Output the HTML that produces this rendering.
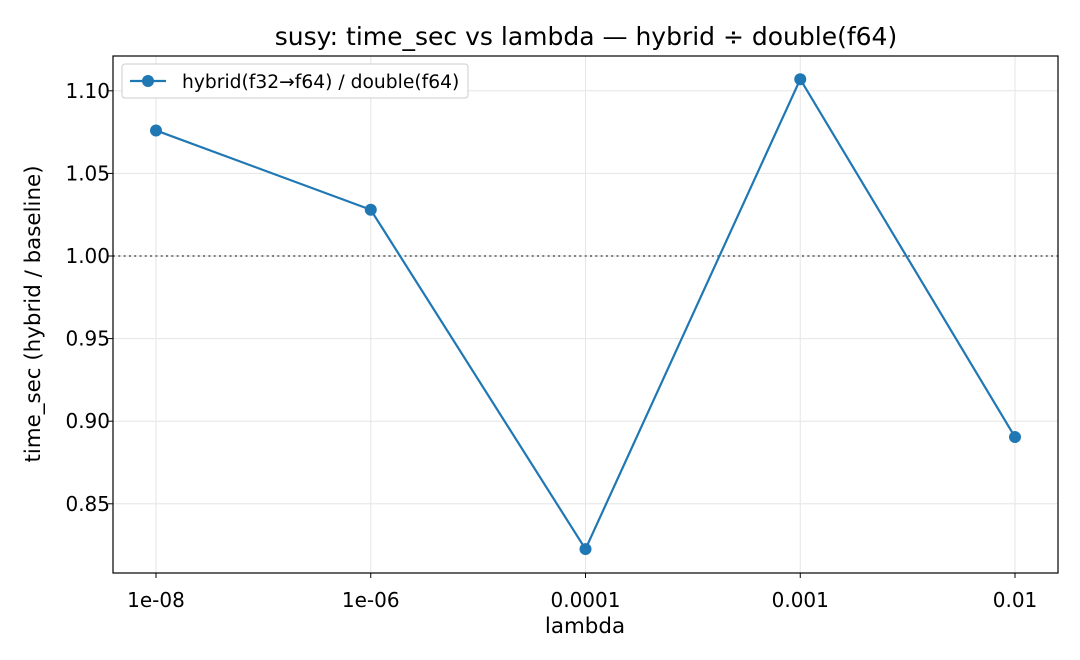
<!DOCTYPE html>
<html><head><meta charset="utf-8">
<style>
html,body{margin:0;padding:0;background:#fff;}
svg{display:block;font-family:"DejaVu Sans","Liberation Sans",sans-serif;}
</style></head>
<body>
<svg id="chart" width="1080" height="660" xmlns="http://www.w3.org/2000/svg">
<text x="586" y="45" text-anchor="middle" font-size="25" fill="#000">susy: time_sec vs lambda — hybrid ÷ double(f64)</text>
<g id="grid"></g>
<line id="refline" stroke="#808080" stroke-width="2" stroke-dasharray="2,3.3"/>
<g id="series"></g>
<rect x="113" y="56" width="945" height="517" fill="none" stroke="#000" stroke-width="1.2"/>
<g id="axes"></g>
<text x="585" y="633" text-anchor="middle" font-size="21.4">lambda</text>
<text transform="translate(40,314) rotate(-90)" text-anchor="middle" font-size="21.4">time_sec (hybrid / baseline)</text>
<g>
<rect x="122" y="64" width="346" height="34" rx="3" fill="#fff" stroke="#ccc"/>
<line x1="130" y1="81" x2="166" y2="81" stroke="#1f77b4" stroke-width="2.2"/>
<circle cx="148" cy="81" r="6" fill="#1f77b4"/>
<text x="182" y="88" font-size="18.7">hybrid(f32→f64) / double(f64)</text>
</g>
</svg>
<script>
const categories = ["1e-08","1e-06","0.0001","0.001","0.01"];
const ratioValues = [1.076, 1.028, 0.8226, 1.107, 0.8904];
const yTicks = [0.85, 0.90, 0.95, 1.00, 1.05, 1.10];
const yTickLabels = ["0.85","0.90","0.95","1.00","1.05","1.10"];
const referenceValue = 1.0;

const NS="http://www.w3.org/2000/svg";
const L=113,R=1058,T=56,B=573;
const x0=156, dx=214.75;
function xs(i){return x0+i*dx;}
function ys(v){return 256-(v-1.0)*1652;}
function mk(tag,attrs,parent){const e=document.createElementNS(NS,tag);for(const k in attrs)e.setAttribute(k,attrs[k]);parent.appendChild(e);return e;}
const grid=document.getElementById('grid'),axes=document.getElementById('axes'),series=document.getElementById('series');
categories.forEach((c,i)=>{
  const g=mk('line',{x1:xs(i),x2:xs(i),y1:T,y2:B,stroke:'#e6e6e6','stroke-width':1},grid);
  
  
  const t=mk('line',{x1:xs(i),x2:xs(i),y1:B,y2:B+5,stroke:'#000'},axes);
  
  
  const l=mk('text',{x:xs(i),y:B+34,'text-anchor':'middle','font-size':20},axes);
  l.textContent=c;
  
  
});
yTicks.forEach((v,i)=>{
  const g=mk('line',{x1:L,x2:R,y1:ys(v),y2:ys(v),stroke:'#e6e6e6','stroke-width':1},grid);
  
  
  const t=mk('line',{x1:L-5,x2:L,y1:ys(v),y2:ys(v),stroke:'#000'},axes);
  
  
  const l=mk('text',{x:L-3,y:ys(v)+7,'text-anchor':'end','font-size':20},axes);
  l.textContent=yTickLabels[i];
  
  
});
const rl=document.getElementById('refline');
rl.setAttribute('x1',L);rl.setAttribute('x2',R);rl.setAttribute('y1',ys(referenceValue));rl.setAttribute('y2',ys(referenceValue));
const pts=ratioValues.map((v,i)=>xs(i)+','+ys(v)).join(' ');
const pl=mk('polyline',{points:pts,fill:'none',stroke:'#1f77b4','stroke-width':2.2},series);


ratioValues.forEach((v,i)=>{
  const c=mk('circle',{cx:xs(i),cy:ys(v),r:6,fill:'#1f77b4'},series);
  
  
});
</script>
</body></html>
